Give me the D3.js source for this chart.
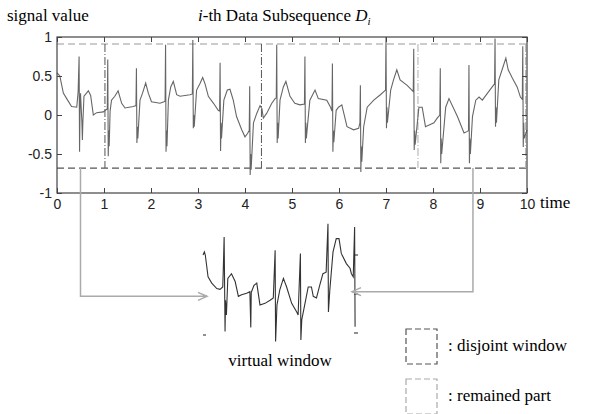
<!DOCTYPE html>
<html>
<head>
<meta charset="utf-8">
<script src="https://cdn.jsdelivr.net/npm/d3@7"></script>
<style>
  body { margin: 0; background: #fff; }
  svg { display: block; }
</style>
</head>
<body>
<div id="chart"></div>
<script>
// signal: time (s) and value
const sigTime = [0, 0.03, 0.06, 0.135, 0.206, 0.31, 0.42, 0.45, 0.47, 0.48, 0.49, 0.5, 0.53, 0.54, 0.55, 0.574, 0.667, 0.716, 0.773, 0.844, 0.986,
  1.07, 1.08, 1.09, 1.1, 1.11, 1.13, 1.16, 1.23, 1.3, 1.376, 1.447, 1.624, 1.68, 1.69, 1.7, 1.71, 1.72, 1.766, 1.82, 1.887, 1.943,
  2.01, 2.19, 2.277, 2.3, 2.31, 2.32, 2.33, 2.34, 2.37, 2.42, 2.475, 2.546, 2.617, 2.83, 2.88, 2.89, 2.9, 2.91, 2.92, 2.97,
  3.04, 3.1, 3.15, 3.22, 3.33, 3.43, 3.46, 3.47, 3.48, 3.49, 3.5, 3.55, 3.624, 3.68, 3.75, 3.82, 3.93,
  4.0, 4.05, 4.09, 4.1, 4.11, 4.12, 4.13, 4.18, 4.25, 4.32, 4.36, 4.39, 4.46, 4.57, 4.64, 4.665, 4.675, 4.685, 4.695, 4.705, 4.745, 4.816, 4.87, 4.957,
  5.06, 5.17, 5.265, 5.275, 5.285, 5.295, 5.305, 5.38, 5.49, 5.56, 5.74, 5.82, 5.85, 5.86, 5.87, 5.88, 5.89, 5.94, 5.99,
  6.06, 6.17, 6.31, 6.418, 6.445, 6.455, 6.465, 6.475, 6.485, 6.525, 6.6, 6.74, 6.88, 6.99,
  7.0, 7.01, 7.02, 7.03, 7.1, 7.16, 7.23, 7.3, 7.45, 7.55, 7.58, 7.59, 7.6, 7.61, 7.62, 7.7, 7.77, 7.84,
  8.02, 8.09, 8.145, 8.155, 8.165, 8.175, 8.185, 8.27, 8.34, 8.52, 8.66, 8.73, 8.755, 8.765, 8.775, 8.785, 8.795, 8.84, 8.91, 8.98,
  9.05, 9.16, 9.26, 9.31, 9.32, 9.33, 9.34, 9.35, 9.4, 9.47, 9.55, 9.6, 9.69, 9.79, 9.86, 9.9, 9.91, 9.92, 9.93, 9.94, 10];
const sigValue = [0.54, 0.52, 0.5, 0.28, 0.21, 0.11, 0.1, 0.3, 0.75, -0.47, 0.1, 0.28, -0.1, -0.32, -0.1, 0.24, 0.31, 0.25, 0, 0.03, 0.04,
  0.08, 0.71, -0.53, -0.2, -0.4, 0.05, 0.19, 0.24, 0.31, 0.15, 0.09, 0.11, 0.12, 0.6, -0.36, -0.15, -0.3, 0.19, 0.28, 0.41, 0.28,
  0.17, 0.15, 0.17, 0.18, 0.9, -0.47, -0.2, -0.4, 0.19, 0.36, 0.43, 0.26, 0.24, 0.26, 0.27, 0.96, -0.17, 0, -0.15, 0.32,
  0.4, 0.48, 0.4, 0.24, 0.15, 0.06, 0.05, 0.67, -0.46, -0.1, -0.3, 0.19, 0.32, 0.33, 0.19, -0.02, -0.19,
  -0.28, -0.24, -0.2, 0.37, -0.77, -0.5, -0.7, -0.1, 0.02, 0.12, 0.08, -0.04, 0.02, 0.15, 0.21, 0.22, 0.9, -0.36, -0.1, -0.3, 0.19, 0.36, 0.43, 0.24,
  0.15, 0.13, 0.14, 0.75, -0.36, -0.1, -0.3, 0.19, 0.32, 0.21, 0.19, 0.1, 0.05, 0.66, -0.47, -0.2, -0.35, 0.06, 0.1,
  0.13, -0.15, -0.19, -0.17, -0.1, 0.38, -0.73, -0.4, -0.6, -0.15, 0.1, 0.19, 0.26, 0.32,
  1.0, -0.17, 0.1, -0.1, 0.32, 0.45, 0.58, 0.45, 0.38, 0.32, 0.3, 0.85, -0.45, -0.2, -0.38, 0.1, 0.1, -0.15,
  -0.1, -0.04, 0, 0.6, -0.62, -0.3, -0.5, 0.1, 0.21, -0.02, -0.23, -0.21, -0.2, 0.64, -0.62, -0.3, -0.5, -0.02, 0.19, 0.23,
  0.19, 0.28, 0.36, 0.4, 0.98, -0.15, 0.1, -0.1, 0.45, 0.58, 0.73, 0.58, 0.47, 0.36, 0.23, 0.2, 0.88, -0.41, -0.1, -0.3, -0.19];

// virtual window signal (time within window, value)
const virtTime = [0, 0.03, 0.05, 0.11, 0.19, 0.3, 0.37, 0.43, 0.44, 0.46, 0.48, 0.49, 0.51, 0.54, 0.62, 0.7, 0.77, 0.84, 0.95,
  1.02, 1.04, 1.05, 1.11, 1.17, 1.24, 1.35, 1.46, 1.53, 1.57, 1.58, 1.61, 1.67, 1.75, 1.82, 1.93,
  2.04, 2.07, 2.12, 2.13, 2.15, 2.22, 2.29, 2.36, 2.4, 2.47, 2.54, 2.61, 2.68, 2.72, 2.73, 2.76, 2.79, 2.83, 2.9, 2.96,
  3.01, 3.12, 3.2, 3.23, 3.27, 3.3, 3.31];
const virtValue = [0.5, 0.54, 0.5, 0.22, 0.14, 0.07, 0.06, 0.09, 0.28, 0.73, -0.48, -0.08, -0.27, 0.2, 0.26, 0.16, -0.03, -0.01, 0.01,
  0.03, -0.43, 0.02, 0.11, 0.14, -0.14, -0.12, -0.08, -0.05, 0.56, -0.61, -0.14, 0.05, 0.2, 0.09, -0.12,
  -0.23, -0.27, 0.52, -0.59, -0.33, -0.12, 0.09, 0.09, -0.03, -0.05, 0.11, 0.26, 0.28, 0.9, -0.23, 0.05, 0.26, 0.54, 0.71, 0.71,
  0.52, 0.39, 0.33, 0.26, 0.22, 0.86, -0.42];

const xTicks = [0, 1, 2, 3, 4, 5, 6, 7, 8, 9, 10];
const yTicks = [-1, -0.5, 0, 0.5, 1];
const bandTop = 0.91;
const bandBottom = -0.68;
const windowEdges = [1.02, 4.35];
const remainEdges = [7.68, 9.97];
const virtLeftTicks = [0, -0.5];
const virtRightTicks = [0.5, 0, -0.5];
const virtLength = 3.33;
// arrows: time in main plot -> side of virtual window
const links = [{from: 0.5, to: 0, level: -0.03, side: -1}, {from: 8.85, to: virtLength, level: 0.03, side: 1}];
const legendItems = [{text: ': disjoint window', color: '#555'}, {text: ': remained part', color: '#aaa'}];

const w = 600;
const h = 414;
const serif = '"Liberation Serif", "Times New Roman", serif';
const sans = '"Liberation Sans", Arial, sans-serif';

const svg = d3.select('#chart')
  .append('svg')
  .attr('width', w)
  .attr('height', h);

const xScale = d3.scaleLinear().domain([0, 10]).range([57, 527]);
const yScale = d3.scaleLinear().domain([-1, 1]).range([193, 37]);
const vxScale = d3.scaleLinear().domain([0, virtLength]).range([203, 356]);
const vyScale = d3.scaleLinear().domain([-0.5, 0.5]).range([333, 255]);

// dashed window guides
const guide = svg.append('g');
guide.append('line')
  .attr('x1', xScale(0)).attr('x2', xScale(10))
  .attr('y1', yScale(bandTop)).attr('y2', yScale(bandTop))
  .attr('stroke', '#999').attr('stroke-width', 1.2).attr('stroke-dasharray', '7,4');
guide.append('line')
  .attr('x1', xScale(0)).attr('x2', xScale(10))
  .attr('y1', yScale(bandBottom)).attr('y2', yScale(bandBottom))
  .attr('stroke', '#555').attr('stroke-width', 1.2).attr('stroke-dasharray', '7,4');
guide.selectAll('.win')
  .data(windowEdges)
  .enter()
  .append('line')
  .attr('x1', d => xScale(d)).attr('x2', d => xScale(d))
  .attr('y1', yScale(bandTop)).attr('y2', yScale(bandBottom))
  .attr('stroke', '#555').attr('stroke-width', 1).attr('stroke-dasharray', '8,2,1,2');
guide.selectAll('.rem')
  .data(remainEdges)
  .enter()
  .append('line')
  .attr('x1', d => xScale(d)).attr('x2', d => xScale(d))
  .attr('y1', yScale(bandTop)).attr('y2', yScale(bandBottom))
  .attr('stroke', '#bbb').attr('stroke-width', 1.2).attr('stroke-dasharray', '8,2,1,2');

// signal
const line = d3.line().x(d => xScale(d[0])).y(d => yScale(d[1]));
svg.append('path')
  .datum(sigTime.map((t, i) => [t, sigValue[i]]))
  .attr('d', line)
  .attr('fill', 'none')
  .attr('stroke', '#666')
  .attr('stroke-width', 1.1);

// box and axes
svg.append('rect')
  .attr('x', xScale(0)).attr('y', yScale(1))
  .attr('width', xScale(10) - xScale(0)).attr('height', yScale(-1) - yScale(1))
  .attr('fill', 'none').attr('stroke', '#444').attr('stroke-width', 1.2);

const axisStyle = (g) => {
  g.select('.domain').remove();
  g.selectAll('line').attr('stroke', '#444');
  g.selectAll('text').attr('font-family', sans).attr('font-size', 14).attr('fill', '#222');
};

svg.append('g')
  .attr('transform', 'translate(0,' + yScale(-1) + ')')
  .call(d3.axisBottom(xScale).tickValues(xTicks).tickSize(-5).tickPadding(6).tickFormat(d => d))
  .call(axisStyle);
svg.append('g')
  .attr('transform', 'translate(0,' + yScale(1) + ')')
  .call(d3.axisTop(xScale).tickValues(xTicks).tickSize(-5).tickFormat(''))
  .call(axisStyle);
svg.append('g')
  .attr('transform', 'translate(' + xScale(0) + ',0)')
  .call(d3.axisLeft(yScale).tickValues(yTicks).tickSize(-5).tickPadding(5).tickFormat(d => d))
  .call(axisStyle);
svg.append('g')
  .attr('transform', 'translate(' + xScale(10) + ',0)')
  .call(d3.axisRight(yScale).tickValues(yTicks).tickSize(-5).tickFormat(''))
  .call(axisStyle);

// labels
svg.append('text')
  .attr('x', 7).attr('y', 21)
  .attr('font-family', serif).attr('font-size', 17)
  .text('signal value');
svg.append('text')
  .attr('x', 540).attr('y', 208)
  .attr('font-family', serif).attr('font-size', 17)
  .text('time');
const title = svg.append('text')
  .attr('x', 198).attr('y', 21)
  .attr('font-family', serif).attr('font-size', 17);
title.append('tspan').attr('font-style', 'italic').text('i');
title.append('tspan').text('-th Data Subsequence ');
title.append('tspan').attr('font-style', 'italic').text('D');
title.append('tspan').attr('font-style', 'italic').attr('font-size', 11).attr('dy', 4).text('i');

// virtual window
const vline = d3.line().x(d => vxScale(d[0])).y(d => vyScale(d[1]));
svg.append('path')
  .datum(virtTime.map((t, i) => [t, virtValue[i]]))
  .attr('d', vline)
  .attr('fill', 'none')
  .attr('stroke', '#333')
  .attr('stroke-width', 1.1);
svg.selectAll('.vl')
  .data(virtLeftTicks)
  .enter()
  .append('line')
  .attr('x1', vxScale(0)).attr('x2', vxScale(0) + 3)
  .attr('y1', d => vyScale(d) + 2).attr('y2', d => vyScale(d) + 2)
  .attr('stroke', '#222');
svg.selectAll('.vr')
  .data(virtRightTicks)
  .enter()
  .append('line')
  .attr('x1', vxScale(virtLength) - 2).attr('x2', vxScale(virtLength) + 2)
  .attr('y1', d => vyScale(d)).attr('y2', d => vyScale(d))
  .attr('stroke', '#222');
svg.append('text')
  .attr('x', 280).attr('y', 366)
  .attr('text-anchor', 'middle')
  .attr('font-family', serif).attr('font-size', 17)
  .text('virtual window');

// arrows from main plot to virtual window
links.forEach(l => {
  const x0 = xScale(l.from);
  const y1 = vyScale(l.level);
  const x1 = vxScale(l.to) - l.side * 4;
  svg.append('path')
    .attr('d', 'M' + x0 + ',' + yScale(bandBottom) + 'V' + y1 + 'H' + x1)
    .attr('fill', 'none').attr('stroke', '#aaa').attr('stroke-width', 1.5);
  svg.append('path')
    .attr('d', 'M' + (x1 + l.side * 9) + ',' + (y1 - 4) + 'L' + x1 + ',' + y1 + 'L' + (x1 + l.side * 9) + ',' + (y1 + 4))
    .attr('fill', 'none').attr('stroke', '#aaa').attr('stroke-width', 1.5);
});

// legend
const legend = svg.selectAll('.legend')
  .data(legendItems)
  .enter()
  .append('g')
  .attr('transform', (d, i) => 'translate(406,' + (329 + i * 50) + ')');
legend.append('rect')
  .attr('width', 31).attr('height', 35)
  .attr('fill', 'none')
  .attr('stroke', d => d.color)
  .attr('stroke-width', 1.2)
  .attr('stroke-dasharray', '6,3');
legend.append('text')
  .attr('x', 42).attr('y', 22)
  .attr('font-family', serif).attr('font-size', 17)
  .text(d => d.text);
</script>
</body>
</html>
